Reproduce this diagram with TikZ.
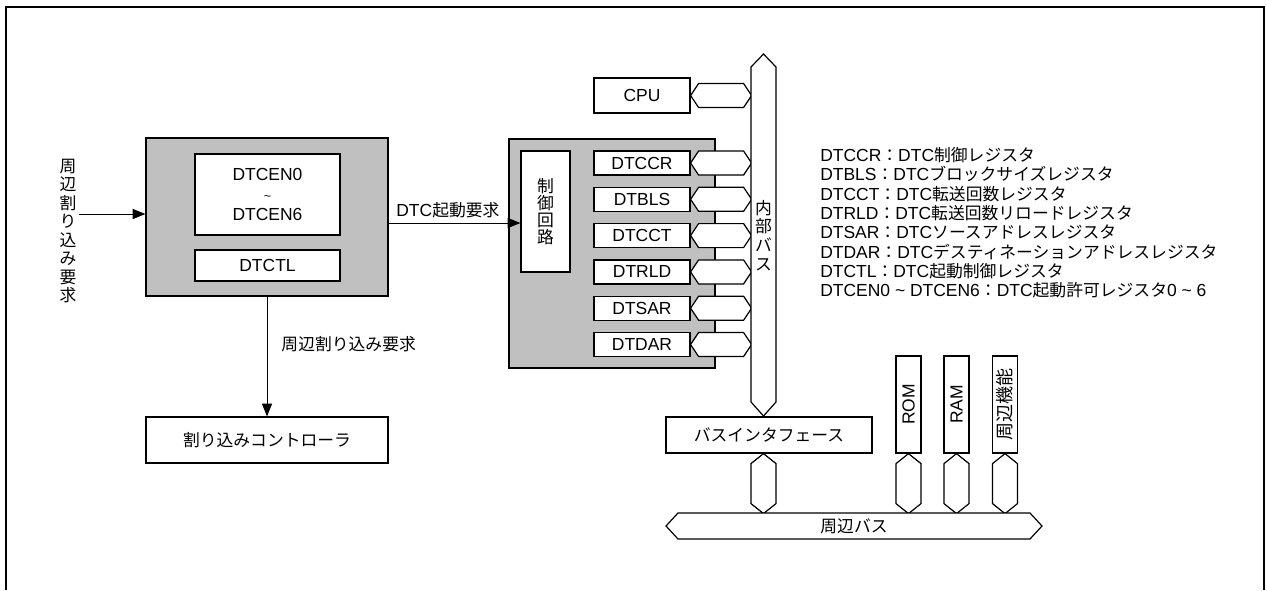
\documentclass[tikz,border=0pt]{standalone}
\usepackage{fontspec}
\setmainfont{Liberation Sans}[Scale=1.04]
\newfontfamily\jpfont{Noto Sans CJK JP}
\newcommand{\jp}[1]{{\jpfont #1}}
\usetikzlibrary{arrows.meta}
\definecolor{blockgray}{RGB}{192,192,192}
% hexagon bus links (right of a node / below a point)
\newcommand{\hlink}[1]{\draw[hexline] (#1.east) -- ++(8,-12) -- ++(45,0) -- ++(8,12) -- ++(-8,12) -- ++(-45,0) -- cycle;}
\newcommand{\vlink}[1]{\draw[hexline] (#1) -- ++(12.5,10) -- ++(0,40) -- ++(-12.5,10) -- ++(-12.5,-10) -- ++(0,-40) -- cycle;}

\begin{document}
\begin{tikzpicture}[x=0.75pt, y=-0.75pt, font=\fontsize{12.6}{14.5}\selectfont,
    box/.style={draw, line width=0.9pt, fill=white, inner sep=0pt},
    grp/.style={draw, line width=0.9pt, fill=blockgray, inner sep=0pt},
    reg/.style={box, minimum width=72pt, minimum height=18pt},
    hexline/.style={draw, line width=0.9pt, fill=white},
    vtxt/.style={align=center, inner sep=2pt},
    arr/.style={-{Triangle[length=9.5pt,width=7.5pt]}, line width=0.75pt}]
  \useasboundingbox (0,0) rectangle (1267,590);
  \draw[line width=2.2pt] (6,590) -- (6,7) -- (1264,7) -- (1264,590);

  % DTC enable / control
  \node[vtxt, font=\jpfont\fontsize{12.6}{13.9}\selectfont] (perireq) at (68,231) {周\\辺\\割\\り\\込\\み\\要\\求};
  \node[grp, minimum width=181.5pt, minimum height=118.5pt] (dtc) at (267,217) {};
  \node[box, minimum width=108.75pt, minimum height=60.75pt, align=center] (dtcen) at (267.5,194.5)
    {DTCEN0\\[0.5pt]{\small\textasciitilde}\\[0.5pt]DTCEN6};
  \node[box, minimum width=108.75pt, minimum height=23.25pt] (dtctl) at (267.5,265.5) {DTCTL};
  \draw[arr] (perireq.east |- 0,214) -- (dtc.west |- 0,214);

  \node[box, minimum width=181.5pt, minimum height=34.5pt] (intc) at (267,440) {\jp{割り込みコントローラ}};
  \draw[arr] (dtc.south) -- node[pos=0.4, right, xshift=7pt] (reqlbl) {\jp{周辺割り込み要求}} (intc.north);

  % DTC block
  \node[grp, minimum width=154.5pt, minimum height=171.75pt] (dtcblk) at (612,253.5) {};
  \node[box, minimum width=36.75pt, minimum height=90.75pt, align=center,
    font=\jpfont\fontsize{12.6}{12.9}\selectfont] (ctl) at (545.5,211.5) {制\\御\\回\\路};
  \draw[arr] (dtc.east |- 0,223) -- node[above, pos=0.45] (startlbl) {DTC\jp{起動要求}} (ctl.west |- 0,223);

  \node[reg, minimum height=26.25pt] (cpu) at (642,95.5) {CPU};
  \hlink{cpu}
  \foreach \name/\regname [count=\i from 0] in {dtccr/DTCCR, dtbls/DTBLS, dtcct/DTCCT,
      dtrld/DTRLD, dtsar/DTSAR, dtdar/DTDAR} {
    \node[reg] (\name) at (642,163+36.3*\i) {\regname};
    \hlink{\name}
  }

  % internal bus
  \draw[hexline] (751,67) -- (763.5,54) -- (776,67) -- (776,402) -- (763.5,416) -- (751,402) -- cycle;
  \node[vtxt, font=\jpfont\fontsize{12.6}{14.1}\selectfont] (ibus) at (763.5,235.5) {内\\部\\バ\\ス};

  \node[box, minimum width=154.5pt, minimum height=27pt] (bif) at (769,435) {\jp{バスインタフェース}};
  \vlink{bif.south -| ibus}

  \foreach \name/\txt/\x in {rom/ROM/908.5, ram/RAM/956.5, peri/{\jpfont\fontsize{13.5}{14}\selectfont 周辺機能}/1005} {
    \node[box, minimum width=72.75pt, minimum height=18.75pt, rotate=90] (\name) at (\x,404.5) {\txt};
    \vlink{\name.west}
  }

  % peripheral bus
  \draw[hexline] (666,526) -- (678,513) -- (1030,513) -- (1042,526) -- (1030,539) -- (678,539) -- cycle;
  \node (pbus) at (854,526) {\jp{周辺バス}};

  \node[anchor=north west, align=left, inner sep=0pt] (legend) at (820,147) {%
    DTCCR\jp{：}DTC\jp{制御レジスタ}\\
    DTBLS\jp{：}DTC\jp{ブロックサイズレジスタ}\\
    DTCCT\jp{：}DTC\jp{転送回数レジスタ}\\
    DTRLD\jp{：}DTC\jp{転送回数リロードレジスタ}\\
    DTSAR\jp{：}DTC\jp{ソースアドレスレジスタ}\\
    DTDAR\jp{：}DTC\jp{デスティネーションアドレスレジスタ}\\
    DTCTL\jp{：}DTC\jp{起動制御レジスタ}\\
    DTCEN0 \textasciitilde{} DTCEN6\jp{：}DTC\jp{起動許可レジスタ}0 \textasciitilde{} 6};
\end{tikzpicture}
\end{document}
